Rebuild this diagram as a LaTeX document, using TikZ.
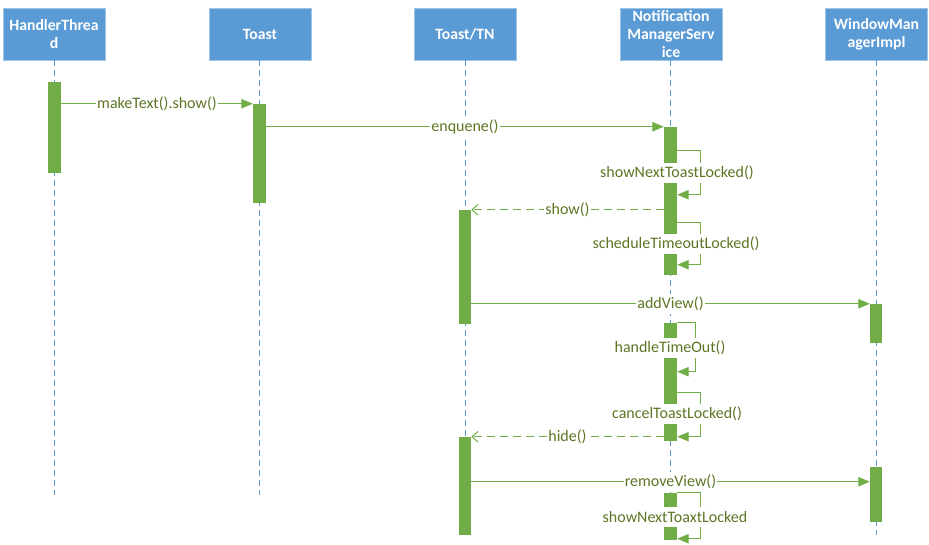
\documentclass[tikz,border=0pt]{standalone}
\usepackage{fontspec}
\setmainfont{Carlito}
\usetikzlibrary{arrows.meta,fit}
\definecolor{hdrblue}{HTML}{5B9BD5}
\definecolor{actgreen}{HTML}{70AD47}
\definecolor{lbltext}{RGB}{92,118,36}
\begin{document}
\begin{tikzpicture}[x=0.75pt,y=-0.75pt,
 hdr/.style={fill=hdrblue, draw=hdrblue!60, text=white, font=\fontsize{11.8}{13.5}\selectfont\bfseries, align=center, minimum width=76.5pt, minimum height=39pt, inner sep=0pt},
 life/.style={draw=hdrblue, line width=0.75pt, dash pattern=on 4.5pt off 3pt},
 bar/.style={fill=actgreen, draw=none, inner sep=0pt},
 msg/.style={draw=actgreen, line width=0.75pt, -{Triangle[length=8.5pt,width=7pt]}},
 ret/.style={draw=actgreen, line width=0.75pt, dash pattern=on 6pt off 3.75pt, -{Straight Barb[length=4.5pt,width=8pt]}},
 lbl/.style={fill=white, text=lbltext, font=\fontsize{12}{13.5}\selectfont, inner sep=1pt, minimum height=15pt}
]
\useasboundingbox (0,0) rectangle (929,544);
% headers
\node[hdr] (ht)  at (54,34)    {HandlerThrea\\d};
\node[hdr] (ts)  at (260,34)   {Toast};
\node[hdr] (tn)  at (465,34)   {Toast/TN};
\node[hdr] (nms) at (671,34)   {Notification\\ManagerServ\\ice};
\node[hdr] (wmi) at (876.5,34) {WindowMan\\agerImpl};
% lifeline ends
\coordinate (htE)  at (54.5,495);
\coordinate (tsE)  at (259.5,495);
\coordinate (tnE)  at (465,530);
\coordinate (nmsE) at (670.5,540);
\coordinate (wmiE) at (876,535);
\draw[life] (ht.south -| htE) -- (htE);
\draw[life] (ts.south -| tsE) -- (tsE);
\draw[life] (tn.south -| tnE) -- (tnE);
\draw[life] (nms.south -| nmsE) -- (nmsE);
\draw[life] (wmi.south -| wmiE) -- (wmiE);
% activation bars
\node[bar, fit={(48,82)(61,173)}] (htb) {};
\node[bar, fit={(253,104)(266,203)}] (tb) {};
\node[bar, fit={(459,210)(471,324)}] (t1) {};
\node[bar, fit={(459,437)(471,535)}] (t2) {};
\node[bar, fit={(664,127)(677,163)}] (n1a) {};
\node[bar, fit={(664,183)(677,234)}] (n1b) {};
\node[bar, fit={(664,254)(677,275)}] (n1c) {};
\node[bar, fit={(664,323)(677,338)}] (n2a) {};
\node[bar, fit={(664,358)(677,404)}] (n2b) {};
\node[bar, fit={(664,424)(677,441)}] (n2c) {};
\node[bar, fit={(664,493)(677,507)}] (n3a) {};
\node[bar, fit={(664,526)(677,540)}] (n3b) {};
\node[bar, fit={(870,304)(882,343)}] (w1) {};
\node[bar, fit={(870,467)(882,522)}] (w2) {};
% messages
\draw[msg] (htb.east |- tb.north) -- node[lbl]{makeText().show()} (tb.north west);
\draw[msg] (tb.east |- n1a.north) -- node[lbl]{enquene()} (n1a.north west);
\draw[ret] (n1b.west |- t1.north) -- node[lbl]{show()} (t1.north east);
\draw[msg] (t1.east |- w1.north) -- node[lbl]{addView()} (w1.north west);
\draw[ret] (n2c.west |- t2.north) -- node[lbl]{hide()} (t2.north east);
\coordinate (rv) at ([yshift=-11.25pt]w2.north west);
\draw[msg] (t2.east |- rv) -- node[lbl]{removeView()} (rv);
% self calls
\draw[msg] ([yshift=9.75pt]n1a.south east) -- ++(23,0) |- ([yshift=-9pt]n1b.north east);
\draw[msg] ([yshift=9pt]n1b.south east) -- ++(23,0) |- ([yshift=-8.25pt]n1c.north east);
\draw[msg] (n2a.north east) -- ++(18,0) |- ([yshift=-10.5pt]n2b.north east);
\draw[msg] ([yshift=9pt]n2b.south east) -- ++(23,0) |- ([yshift=-9.75pt]n2c.north east);
\draw[msg] (n3a.north east) -- ++(23,0) |- ([yshift=-9.75pt]n3b.north east);
\node[lbl] (l1) at (677,173) {showNextToastLocked()};
\node[lbl] (l2) at (676,244) {scheduleTimeoutLocked()};
\node[lbl] (l3) at (670,348) {handleTimeOut()};
\node[lbl] (l4) at (677,414) {cancelToastLocked()};
\node[lbl] (l5) at (675,517) {showNextToaxtLocked};
\end{tikzpicture}
\end{document}
